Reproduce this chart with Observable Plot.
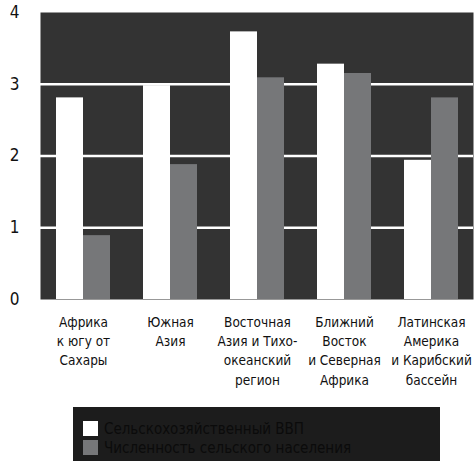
<!DOCTYPE html>
<html><head><meta charset="utf-8">
<script src="https://cdn.jsdelivr.net/npm/d3@7"></script>
<script src="https://cdn.jsdelivr.net/npm/@observablehq/plot@0.6"></script>
<style>
body{margin:0;background:#fff;font-family:"DejaVu Sans Condensed","DejaVu Sans",sans-serif;font-stretch:semi-condensed;}
#legend{margin-left:73px;width:367px;height:60px;background:#1c1c1c;padding:12px 0 0 10px;box-sizing:border-box;margin-top:7px;}
.row{display:flex;align-items:center;height:19px;font-size:15px;color:#0b0b0b;font-stretch:condensed;}
.sw{width:15px;height:15px;margin-right:6px;}
svg text{font-stretch:semi-condensed;}
</style></head>
<body>
<div id="chart"></div>
<div id="legend"></div>
<script>
const regions = ["Африка\nк югу от\nСахары", "Южная\nАзия", "Восточная\nАзия и Тихо-\nокеанский\nрегион", "Ближний\nВосток\nи Северная\nАфрика", "Латинская\nАмерика\nи Карибский\nбассейн"];
const gdp = [2.81, 2.98, 3.73, 3.28, 1.94];
const pop = [0.89, 1.88, 3.09, 3.15, 2.81];
const seriesNames = ["Сельскохозяйственный ВВП", "Численность сельского населения"];
const seriesColors = ["#ffffff", "#767779"];
const yTicks = [0, 1, 2, 3, 4];
const gridValues = [1, 2, 3];

const gdpData = regions.map((r, i) => ({region: r, value: gdp[i]}));
const popData = regions.map((r, i) => ({region: r, value: pop[i]}));

const chart = Plot.plot({
  width: 476, height: 400,
  marginLeft: 40, marginRight: 3, marginTop: 12, marginBottom: 101,
  style: {fontFamily: '"DejaVu Sans Condensed","DejaVu Sans",sans-serif', background: "#fff"},
  x: {domain: regions, paddingInner: 0.384, paddingOuter: 0.163, label: null},
  y: {domain: [0, 4], ticks: yTicks, label: null},
  marks: [
    Plot.frame({fill: "#333333", stroke: null}),
    Plot.ruleY(gridValues, {stroke: "#ffffff", strokeWidth: 2.5}),
    Plot.barY(gdpData, {x: "region", y: "value", fill: seriesColors[0], insetRight: 27}),
    Plot.barY(popData, {x: "region", y: "value", fill: seriesColors[1], insetLeft: 27}),
    Plot.axisX({tickSize: 0, tickPadding: 14, fontSize: 13.5, lineHeight: 1.42, fill: "#111", label: null}),
    Plot.axisY({ticks: yTicks, tickFormat: "d", tickSize: 0, tickPadding: 21, fontSize: 17, fill: "#111", label: null})
  ]
});
document.getElementById("chart").appendChild(chart);

const legend = document.getElementById("legend");
seriesNames.forEach((n, i) => {
  const row = document.createElement("div");
  row.className = "row";
  const sw = document.createElement("div");
  sw.className = "sw";
  sw.style.background = seriesColors[i];
  row.appendChild(sw);
  const t = document.createElement("span");
  t.textContent = n;
  row.appendChild(t);
  legend.appendChild(row);
});
</script>
</body></html>
